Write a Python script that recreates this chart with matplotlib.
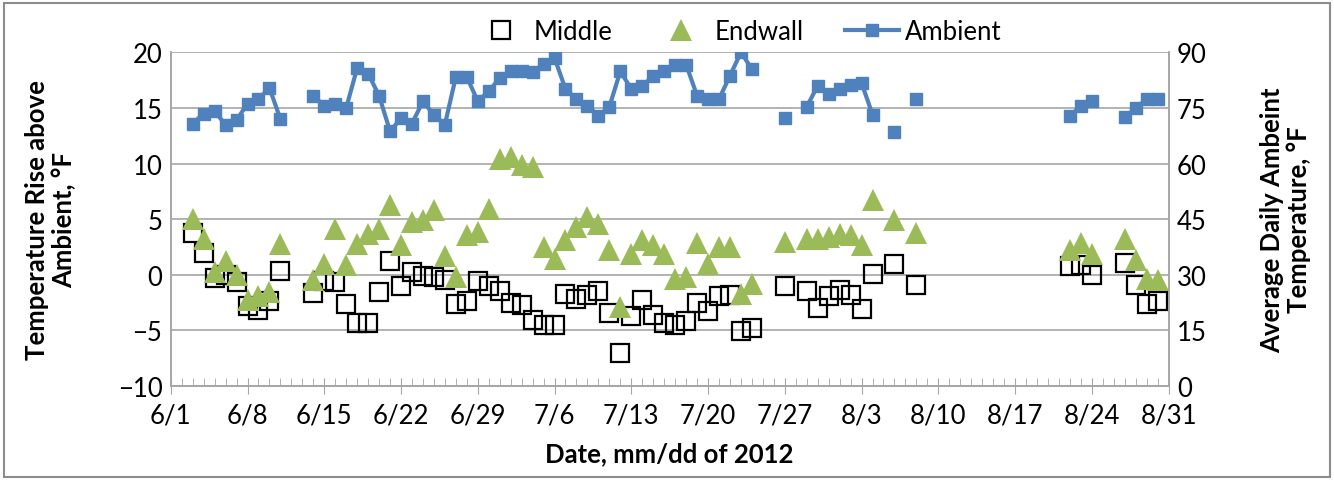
import matplotlib
matplotlib.use('Agg')
import matplotlib.pyplot as plt
import matplotlib.dates as mdates
from matplotlib.patches import Rectangle
import numpy as np
import pandas as pd

plt.rcParams['font.family'] = ['Lato', 'DejaVu Sans']

# test days (mm/dd of 2012)
days = ['6/3', '6/4', '6/5', '6/6', '6/7', '6/8', '6/9', '6/10', '6/11',
        '6/14', '6/15', '6/16', '6/17', '6/18', '6/19', '6/20', '6/21', '6/22',
        '6/23', '6/24', '6/25', '6/26', '6/27', '6/28', '6/29', '6/30',
        '7/1', '7/2', '7/3', '7/4', '7/5', '7/6', '7/7', '7/8', '7/9', '7/10',
        '7/11', '7/12', '7/13', '7/14', '7/15', '7/16', '7/17', '7/18', '7/19',
        '7/20', '7/21', '7/22', '7/23', '7/24',
        '7/27', '7/29', '7/30', '7/31', '8/1', '8/2', '8/3', '8/4',
        '8/6', '8/8',
        '8/22', '8/23', '8/24', '8/27', '8/28', '8/29', '8/30']

# temperature rise above ambient, F
middle = [3.75, 1.95, -0.3, 0.0, -0.7, -2.85, -3.15, -2.4, 0.3,
          -1.65, -0.6, -0.65, -2.6, -4.35, -4.35, -1.6, 1.2, -1.05,
          0.2, -0.1, -0.2, -0.45, -2.65, -2.4, -0.55, -1.05,
          -1.5, -2.55, -2.7, -4.05, -4.5, -4.5, -1.75, -2.15, -1.8, -1.5,
          -3.45, -7.05, -3.75, -2.25, -3.6, -4.35, -4.5, -4.2, -2.55,
          -3.3, -1.95, -1.8, -5.1, -4.8,
          -1.05, -1.5, -3.0, -1.95, -1.35, -1.8, -3.05, 0.05,
          0.95, -0.9,
          0.75, 0.9, 0.0, 1.05, -0.9, -2.6, -2.4]

endwall = [5.0, 3.2, 0.2, 1.2, -0.05, -2.25, -1.95, -1.6, 2.8,
           -0.5, 1.0, 4.1, 0.9, 2.8, 3.7, 4.1, 6.25, 2.65,
           4.75, 4.95, 5.8, 1.7, -0.2, 3.55, 3.85, 5.95,
           10.45, 10.6, 9.85, 9.7, 2.5, 1.45, 3.1, 4.3, 5.2, 4.6,
           2.2, -2.9, 1.9, 3.1, 2.65, 1.9, -0.4, -0.2, 2.85,
           1.0, 2.5, 2.5, -1.7, -0.8,
           2.9, 3.2, 3.2, 3.4, 3.7, 3.55, 2.65, 6.7,
           4.95, 3.75,
           2.2, 2.85, 1.85, 3.25, 1.3, -0.35, -0.45]

# average daily ambient temperature, F
ambient = [70.8, 73.5, 74.1, 70.5, 71.7, 76.2, 77.4, 80.4, 72.0,
           78.3, 75.6, 76.2, 75.0, 85.8, 84.3, 78.3, 68.7, 72.2,
           70.8, 76.8, 73.1, 70.5, 83.4, 83.4, 76.8, 79.5,
           83.1, 84.9, 84.9, 84.6, 87.0, 88.5, 80.1, 77.4, 75.6, 72.9,
           75.3, 84.9, 80.1, 80.85, 83.7, 84.9, 86.7, 86.7, 78.3,
           77.4, 77.4, 83.7, 90.0, 85.5,
           72.2, 75.3, 81.0, 78.9, 80.1, 81.3, 81.75, 73.2,
           68.4, 77.4,
           72.9, 75.45, 76.8, 72.45, 75.0, 77.4, 77.4]

x = pd.to_datetime(['2012/' + d for d in days], format='%Y/%m/%d')
# blank days break the ambient line, like Excel does
amb = pd.Series(ambient, index=x).asfreq('D')

fig = plt.figure(figsize=(13.34, 4.81), dpi=100)
ax = fig.add_axes([0.128, 0.196, 0.748, 0.693])
ax2 = ax.twinx()

grid_c = '#a6a6a6'
fs = 18.5
ax.plot(x, middle, linestyle='none', marker='s', markersize=12.5, markerfacecolor='none',
        markeredgecolor='black', markeredgewidth=1.6, label='Middle', zorder=3)
ax.plot(x, endwall, linestyle='none', marker='^', markersize=15.5, color='#9bbb59',
        markeredgewidth=0, label='Endwall', zorder=4)
ax2.plot(amb.index, amb.values, color='#4f81bd', lw=3, marker='s', markersize=8.5,
         label='Ambient', zorder=5)

ax.set_ylim(-10, 20)
ax.set_yticks(np.arange(-10, 21, 5))
ax2.set_ylim(0, 90)
ax2.set_yticks(np.arange(0, 91, 15))
ax.yaxis.grid(True, color=grid_c, lw=1.2)
ax.set_axisbelow(True)

start, end = pd.Timestamp('2012-06-01'), pd.Timestamp('2012-08-31')
ax.set_xlim(start, end)
major = pd.date_range(start, end, freq='7D')
ax.set_xticks(major)
ax.set_xticklabels([f'{d.month}/{d.day}' for d in major])
ax.xaxis.set_minor_locator(mdates.DayLocator())

for a in (ax, ax2):
    for s in a.spines.values():
        s.set_color(grid_c)
        s.set_linewidth(1.2)
    a.spines['top'].set_visible(False)
    a.tick_params(axis='y', length=0, labelsize=fs, pad=6)
ax.tick_params(axis='x', which='major', direction='inout', length=12, color=grid_c,
               labelsize=fs, pad=6)
ax.tick_params(axis='x', which='minor', direction='in', length=6, color=grid_c)

ax.set_xlabel('Date, mm/dd of 2012', fontsize=fs, fontweight='bold', labelpad=10)
ax.set_ylabel('Temperature Rise above\nAmbient, °F', fontsize=fs, fontweight='bold',
              labelpad=30, linespacing=1.15)
ax2.set_ylabel('Average Daily Ambeint\nTemperature, °F', fontsize=fs, fontweight='bold',
               labelpad=38, linespacing=1.15)

h1, l1 = ax.get_legend_handles_labels()
h2, l2 = ax2.get_legend_handles_labels()
fig.legend(h1 + h2, l1 + l2, loc='center', bbox_to_anchor=(0.553, 0.933), ncol=3,
           frameon=False, fontsize=fs, handlelength=2.1, columnspacing=1.6,
           handletextpad=0.25)

fig.patches.append(Rectangle((0.003, 0.006), 0.994, 0.985, transform=fig.transFigure,
                             fill=False, edgecolor='#8c8c8c', lw=1.5))

fig.savefig('out.png', dpi=100)
